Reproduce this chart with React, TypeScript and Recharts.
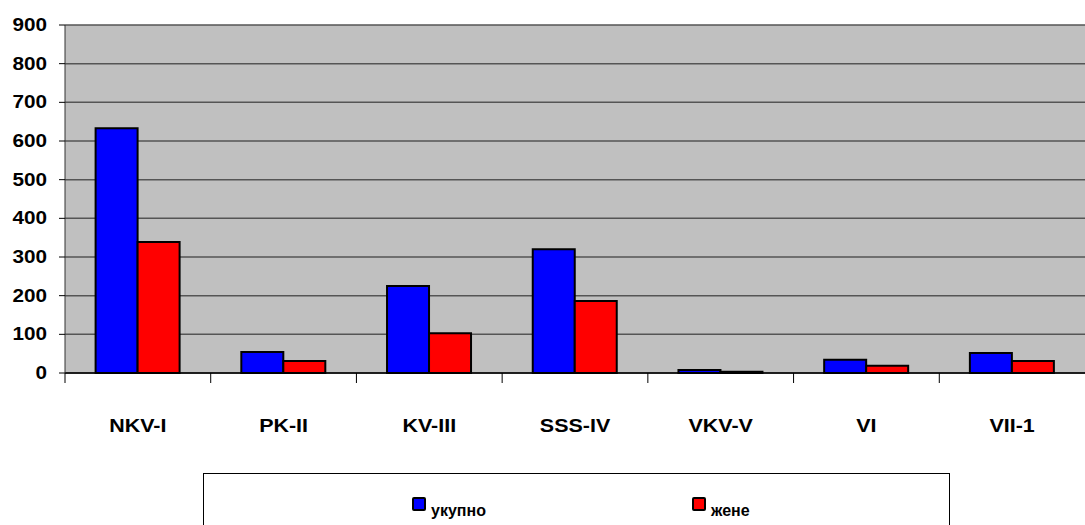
import React from "react";
import {
  BarChart,
  Bar,
  CartesianGrid,
  XAxis,
  YAxis,
  Legend
} from "recharts";

const categories = ["NKV-I", "PK-II", "KV-III", "SSS-IV", "VKV-V", "VI", "VII-1"];
const ukupno = [633, 54, 225, 320, 8, 34, 52];
const zene = [339, 31, 103, 186, 3, 19, 31];
const yTicks = [0, 100, 200, 300, 400, 500, 600, 700, 800, 900];
const seriesNames = ["укупно", "жене"];
const seriesColors = ["#0000ff", "#ff0000"];

const data = categories.map((name, i) => ({
  name,
  ukupno: ukupno[i],
  zene: zene[i]
}));

const FONT = "Arial, 'Liberation Sans', sans-serif";

function XTick(props: any) {
  const { x, y, payload, width } = props;
  const band = width / categories.length;
  const left = x - band / 2;
  return (
    <g>
      <line x1={left} y1={y - 8} x2={left} y2={y + 2} stroke="#000" strokeWidth={1} />
      <text
        transform={`translate(${x},${y + 51}) scale(1.13,1)`}
        textAnchor="middle"
        fontFamily={FONT}
        fontWeight="bold"
        fontSize={19}
        fill="#000"
      >
        {payload.value}
      </text>
    </g>
  );
}

function YTick(props: any) {
  const { x, y, payload } = props;
  return (
    <text
      transform={`translate(${x},${y + 6}) scale(1.15,1)`}
      textAnchor="end"
      fontFamily={FONT}
      fontWeight="bold"
      fontSize={18}
      fill="#000"
    >
      {payload.value}
    </text>
  );
}

function LegendBox() {
  const items = [
    { left: 208, label: seriesNames[0], color: seriesColors[0] },
    { left: 488, label: seriesNames[1], color: seriesColors[1] }
  ];
  return (
    <div
      style={{
        position: "relative",
        width: 747,
        height: 60,
        border: "1px solid #000",
        boxSizing: "border-box",
        fontFamily: FONT
      }}
    >
      {items.map((it) => (
        <div key={it.label}>
          <div
            style={{
              position: "absolute",
              left: it.left,
              top: 23,
              width: 14,
              height: 14,
              background: it.color,
              border: "2px solid #000",
              boxSizing: "border-box",
              borderRadius: 2
            }}
          />
          <div
            style={{
              position: "absolute",
              left: it.left + 19,
              top: 29,
              fontSize: 16,
              fontWeight: "bold",
              lineHeight: "16px",
              color: "#000",
              whiteSpace: "nowrap"
            }}
          >
            {it.label}
          </div>
        </div>
      ))}
    </div>
  );
}

export default function App() {
  return (
    <div style={{ position: "absolute", left: 0, top: 0, width: 1085, height: 525, background: "#fff", overflow: "hidden" }}>
      <BarChart
        width={1085}
        height={585}
        data={data}
        margin={{ top: 25, right: 0, bottom: 92, left: 0 }}
        barCategoryGap="21%"
        barGap={0}
      >
        <CartesianGrid vertical={false} stroke="#555" strokeWidth={1.5} fill="#c0c0c0" />
        <XAxis
          dataKey="name"
          height={120}
          tick={<XTick />}
          tickLine={false}
          axisLine={{ stroke: "#000", strokeWidth: 1.5 }}
          interval={0}
        />
        <YAxis
          width={65}
          domain={[0, 900]}
          ticks={yTicks}
          interval={0}
          tickSize={6}
          tickMargin={12}
          tickLine={{ stroke: "#000" }}
          axisLine={{ stroke: "#333", strokeWidth: 1 }}
          tick={<YTick />}
        />
        <Legend
          content={() => <LegendBox />}
          wrapperStyle={{ position: "absolute", left: 203, top: 473, width: 747, height: 0 }}
        />
        <Bar dataKey="ukupno" name={seriesNames[0]} fill={seriesColors[0]} stroke="#000" strokeWidth={2} isAnimationActive={false} />
        <Bar dataKey="zene" name={seriesNames[1]} fill={seriesColors[1]} stroke="#000" strokeWidth={2} isAnimationActive={false} />
      </BarChart>
    </div>
  );
}
